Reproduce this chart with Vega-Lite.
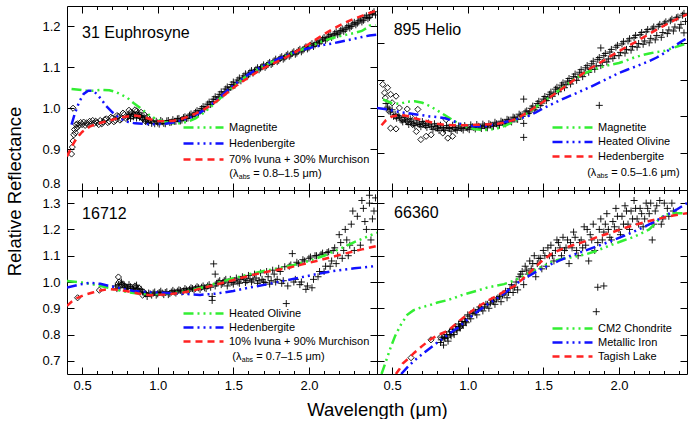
{
"$schema": "https://vega.github.io/schema/vega-lite/v6.json",
"padding": {"left": 5, "top": 5, "right": 1, "bottom": 0},
"autosize": {"type": "pad"},
"spacing": 0,
"bounds": "flush",
"columns": 2,
"config": {
 "font": "Liberation Sans",
 "view": {"stroke": null},
 "axis": {"grid": false, "domainColor": "#000", "tickColor": "#000", "labelColor": "#000", "titleColor": "#000", "labelFontSize": 13, "titleFontSize": 18.5, "titleFontWeight": "normal", "labelFont": "Liberation Sans", "titleFont": "Liberation Sans", "labelOverlap": false, "labelFlush": false, "domainWidth": 1, "tickWidth": 1},
 "legend": {"labelFont": "Liberation Sans", "labelColor": "#000", "labelFontSize": 11},
 "text": {"font": "Liberation Sans", "color": "#000"}
},
"resolve": {"scale": {"x": "independent", "y": "independent", "color": "independent", "strokeDash": "independent"}, "legend": {"color": "independent", "strokeDash": "independent"}, "axis": {"x": "independent", "y": "independent"}},
"datasets": {
 "tl_obs": [{"w":0.80,"r":0.978},{"w":0.81,"r":0.985},{"w":0.82,"r":0.975},{"w":0.83,"r":0.988},{"w":0.84,"r":0.979},{"w":0.85,"r":0.984},{"w":0.86,"r":0.976},{"w":0.87,"r":0.99},{"w":0.88,"r":0.978},{"w":0.89,"r":0.982},{"w":0.90,"r":0.972},{"w":0.91,"r":0.978},{"w":0.92,"r":0.968},{"w":0.93,"r":0.975},{"w":0.94,"r":0.965},{"w":0.95,"r":0.971},{"w":0.96,"r":0.963},{"w":0.97,"r":0.969},{"w":0.98,"r":0.962},{"w":0.99,"r":0.968},{"w":1.00,"r":0.964},{"w":1.02,"r":0.97},{"w":1.04,"r":0.963},{"w":1.06,"r":0.969},{"w":1.08,"r":0.965},{"w":1.10,"r":0.972},{"w":1.12,"r":0.968},{"w":1.14,"r":0.975},{"w":1.16,"r":0.971},{"w":1.18,"r":0.979},{"w":1.20,"r":0.976},{"w":1.22,"r":0.986},{"w":1.24,"r":0.984},{"w":1.26,"r":0.994},{"w":1.28,"r":0.993},{"w":1.30,"r":1.004},{"w":1.32,"r":1.003},{"w":1.34,"r":1.015},{"w":1.36,"r":1.016},{"w":1.38,"r":1.028},{"w":1.40,"r":1.027},{"w":1.42,"r":1.04},{"w":1.44,"r":1.04},{"w":1.46,"r":1.052},{"w":1.48,"r":1.051},{"w":1.50,"r":1.064},{"w":1.52,"r":1.062},{"w":1.54,"r":1.074},{"w":1.56,"r":1.073},{"w":1.58,"r":1.084},{"w":1.60,"r":1.082},{"w":1.62,"r":1.092},{"w":1.64,"r":1.09},{"w":1.66,"r":1.099},{"w":1.68,"r":1.098},{"w":1.70,"r":1.106},{"w":1.72,"r":1.104},{"w":1.74,"r":1.112},{"w":1.76,"r":1.11},{"w":1.78,"r":1.12},{"w":1.80,"r":1.117},{"w":1.82,"r":1.126},{"w":1.84,"r":1.123},{"w":1.86,"r":1.132},{"w":1.88,"r":1.13},{"w":1.90,"r":1.138},{"w":1.92,"r":1.135},{"w":1.94,"r":1.144},{"w":1.96,"r":1.142},{"w":1.98,"r":1.15},{"w":2.00,"r":1.148},{"w":2.02,"r":1.158},{"w":2.04,"r":1.155},{"w":2.06,"r":1.165},{"w":2.08,"r":1.163},{"w":2.10,"r":1.173},{"w":2.12,"r":1.17},{"w":2.14,"r":1.18},{"w":2.16,"r":1.177},{"w":2.18,"r":1.187},{"w":2.20,"r":1.184},{"w":2.22,"r":1.194},{"w":2.24,"r":1.192},{"w":2.26,"r":1.202},{"w":2.28,"r":1.2},{"w":2.30,"r":1.21},{"w":2.32,"r":1.208},{"w":2.34,"r":1.218},{"w":2.36,"r":1.215},{"w":2.38,"r":1.226},{"w":2.40,"r":1.222},{"w":2.42,"r":1.232},{"w":2.44,"r":1.228},
  {"w":1.01,"r":0.961},{"w":1.03,"r":0.967},{"w":1.05,"r":0.962},{"w":1.07,"r":0.97},{"w":1.09,"r":0.966},{"w":1.11,"r":0.968},{"w":1.13,"r":0.974},{"w":1.15,"r":0.969},{"w":1.17,"r":0.977},{"w":1.19,"r":0.975},{"w":1.21,"r":0.983},{"w":1.23,"r":0.98},{"w":1.25,"r":0.99},{"w":1.27,"r":0.988},{"w":1.29,"r":0.999},{"w":1.31,"r":0.998},{"w":1.33,"r":1.01},{"w":1.35,"r":1.009},{"w":1.37,"r":1.022},{"w":1.39,"r":1.021},{"w":1.41,"r":1.034},{"w":1.43,"r":1.033},{"w":1.45,"r":1.047},{"w":1.47,"r":1.045},{"w":1.49,"r":1.058},{"w":1.51,"r":1.056},{"w":1.53,"r":1.069},{"w":1.55,"r":1.067},{"w":1.57,"r":1.079},{"w":1.59,"r":1.077},{"w":1.61,"r":1.088},{"w":1.63,"r":1.086},{"w":1.65,"r":1.095},{"w":1.67,"r":1.094},{"w":1.69,"r":1.102},{"w":1.71,"r":1.1},{"w":1.73,"r":1.109},{"w":1.75,"r":1.107},{"w":1.77,"r":1.116},{"w":1.79,"r":1.114},{"w":1.81,"r":1.123},{"w":1.83,"r":1.12},{"w":1.85,"r":1.129},{"w":1.87,"r":1.127},{"w":1.89,"r":1.135},{"w":1.91,"r":1.132},{"w":1.93,"r":1.141},{"w":1.95,"r":1.138},{"w":1.97,"r":1.147},{"w":1.99,"r":1.145},{"w":2.01,"r":1.154},{"w":2.03,"r":1.151},{"w":2.05,"r":1.161},{"w":2.07,"r":1.159},{"w":2.09,"r":1.169},{"w":2.11,"r":1.166},{"w":2.13,"r":1.176},{"w":2.15,"r":1.173},{"w":2.17,"r":1.183},{"w":2.19,"r":1.18},{"w":2.21,"r":1.19},{"w":2.23,"r":1.188},{"w":2.25,"r":1.198},{"w":2.27,"r":1.196},{"w":2.29,"r":1.206},{"w":2.31,"r":1.204},{"w":2.33,"r":1.214},{"w":2.35,"r":1.211},{"w":2.37,"r":1.222},{"w":2.39,"r":1.219},{"w":2.41,"r":1.229},{"w":2.43,"r":1.236}],
 "tl_vis": [{"w":0.43,"r":0.888},{"w":0.435,"r":0.905},{"w":0.44,"r":1.0},{"w":0.44,"r":0.92},{"w":0.445,"r":0.935},{"w":0.45,"r":0.948},{"w":0.455,"r":0.94},{"w":0.46,"r":0.96},{"w":0.465,"r":0.952},{"w":0.47,"r":0.962},{"w":0.48,"r":0.958},{"w":0.49,"r":0.965},{"w":0.50,"r":0.96},{"w":0.51,"r":0.966},{"w":0.52,"r":0.958},{"w":0.53,"r":0.964},{"w":0.54,"r":0.96},{"w":0.55,"r":0.968},{"w":0.56,"r":0.962},{"w":0.57,"r":0.97},{"w":0.58,"r":0.963},{"w":0.59,"r":0.968},{"w":0.60,"r":0.965},{"w":0.61,"r":0.96},{"w":0.62,"r":0.97},{"w":0.63,"r":0.962},{"w":0.64,"r":0.966},{"w":0.65,"r":0.972},{"w":0.66,"r":0.974},{"w":0.67,"r":0.965},{"w":0.68,"r":0.968},{"w":0.69,"r":0.978},{"w":0.70,"r":0.976},{"w":0.71,"r":0.967},{"w":0.72,"r":0.97},{"w":0.73,"r":0.982},{"w":0.74,"r":0.98},{"w":0.75,"r":0.971},{"w":0.76,"r":0.974},{"w":0.77,"r":0.988},{"w":0.78,"r":0.985},{"w":0.79,"r":0.975},{"w":0.80,"r":0.978},{"w":0.81,"r":0.995},{"w":0.82,"r":0.99},{"w":0.83,"r":0.98},{"w":0.84,"r":0.985},{"w":0.85,"r":0.996},{"w":0.86,"r":0.993},{"w":0.87,"r":0.982},{"w":0.88,"r":0.98},{"w":0.89,"r":0.99},{"w":0.90,"r":0.975},{"w":0.91,"r":0.985},{"w":0.92,"r":0.968},{"w":0.93,"r":0.978},{"w":0.94,"r":0.97}],
 "tl_mod": [
  {"s":"Magnetite","w":0.43,"r":1.047},{"s":"Magnetite","w":0.48,"r":1.045},{"s":"Magnetite","w":0.53,"r":1.043},{"s":"Magnetite","w":0.58,"r":1.043},{"s":"Magnetite","w":0.63,"r":1.045},{"s":"Magnetite","w":0.68,"r":1.044},{"s":"Magnetite","w":0.72,"r":1.04},{"s":"Magnetite","w":0.76,"r":1.033},{"s":"Magnetite","w":0.8,"r":1.025},{"s":"Magnetite","w":0.84,"r":1.013},{"s":"Magnetite","w":0.88,"r":1.002},{"s":"Magnetite","w":0.92,"r":0.99},{"s":"Magnetite","w":0.96,"r":0.979},{"s":"Magnetite","w":1.0,"r":0.972},{"s":"Magnetite","w":1.05,"r":0.966},{"s":"Magnetite","w":1.1,"r":0.963},{"s":"Magnetite","w":1.15,"r":0.963},{"s":"Magnetite","w":1.2,"r":0.967},{"s":"Magnetite","w":1.25,"r":0.975},{"s":"Magnetite","w":1.3,"r":0.988},{"s":"Magnetite","w":1.35,"r":1.003},{"s":"Magnetite","w":1.4,"r":1.02},{"s":"Magnetite","w":1.45,"r":1.037},{"s":"Magnetite","w":1.5,"r":1.053},{"s":"Magnetite","w":1.55,"r":1.068},{"s":"Magnetite","w":1.6,"r":1.082},{"s":"Magnetite","w":1.65,"r":1.093},{"s":"Magnetite","w":1.7,"r":1.103},{"s":"Magnetite","w":1.75,"r":1.112},{"s":"Magnetite","w":1.8,"r":1.12},{"s":"Magnetite","w":1.85,"r":1.128},{"s":"Magnetite","w":1.9,"r":1.136},{"s":"Magnetite","w":1.95,"r":1.143},{"s":"Magnetite","w":2.0,"r":1.15},{"s":"Magnetite","w":2.05,"r":1.158},{"s":"Magnetite","w":2.1,"r":1.165},{"s":"Magnetite","w":2.15,"r":1.171},{"s":"Magnetite","w":2.2,"r":1.176},{"s":"Magnetite","w":2.25,"r":1.18},{"s":"Magnetite","w":2.3,"r":1.184},{"s":"Magnetite","w":2.35,"r":1.189},{"s":"Magnetite","w":2.38,"r":1.196},{"s":"Magnetite","w":2.4,"r":1.202},{"s":"Magnetite","w":2.44,"r":1.203},
  {"s":"Hedenbergite","w":0.43,"r":0.96},{"s":"Hedenbergite","w":0.45,"r":0.985},{"s":"Hedenbergite","w":0.48,"r":1.015},{"s":"Hedenbergite","w":0.51,"r":1.035},{"s":"Hedenbergite","w":0.54,"r":1.043},{"s":"Hedenbergite","w":0.57,"r":1.043},{"s":"Hedenbergite","w":0.6,"r":1.034},{"s":"Hedenbergite","w":0.63,"r":1.02},{"s":"Hedenbergite","w":0.66,"r":1.005},{"s":"Hedenbergite","w":0.7,"r":0.99},{"s":"Hedenbergite","w":0.75,"r":0.975},{"s":"Hedenbergite","w":0.8,"r":0.967},{"s":"Hedenbergite","w":0.85,"r":0.963},{"s":"Hedenbergite","w":0.9,"r":0.962},{"s":"Hedenbergite","w":0.95,"r":0.961},{"s":"Hedenbergite","w":1.0,"r":0.961},{"s":"Hedenbergite","w":1.05,"r":0.962},{"s":"Hedenbergite","w":1.1,"r":0.965},{"s":"Hedenbergite","w":1.15,"r":0.969},{"s":"Hedenbergite","w":1.2,"r":0.975},{"s":"Hedenbergite","w":1.25,"r":0.983},{"s":"Hedenbergite","w":1.3,"r":0.994},{"s":"Hedenbergite","w":1.35,"r":1.008},{"s":"Hedenbergite","w":1.4,"r":1.023},{"s":"Hedenbergite","w":1.45,"r":1.04},{"s":"Hedenbergite","w":1.5,"r":1.056},{"s":"Hedenbergite","w":1.55,"r":1.07},{"s":"Hedenbergite","w":1.6,"r":1.083},{"s":"Hedenbergite","w":1.65,"r":1.094},{"s":"Hedenbergite","w":1.7,"r":1.104},{"s":"Hedenbergite","w":1.75,"r":1.113},{"s":"Hedenbergite","w":1.8,"r":1.121},{"s":"Hedenbergite","w":1.85,"r":1.129},{"s":"Hedenbergite","w":1.9,"r":1.136},{"s":"Hedenbergite","w":1.95,"r":1.142},{"s":"Hedenbergite","w":2.0,"r":1.147},{"s":"Hedenbergite","w":2.05,"r":1.151},{"s":"Hedenbergite","w":2.1,"r":1.155},{"s":"Hedenbergite","w":2.15,"r":1.158},{"s":"Hedenbergite","w":2.2,"r":1.162},{"s":"Hedenbergite","w":2.25,"r":1.166},{"s":"Hedenbergite","w":2.3,"r":1.17},{"s":"Hedenbergite","w":2.35,"r":1.174},{"s":"Hedenbergite","w":2.4,"r":1.178},{"s":"Hedenbergite","w":2.45,"r":1.18},
  {"s":"70% Ivuna + 30% Murchison","w":0.4,"r":0.882},{"s":"70% Ivuna + 30% Murchison","w":0.43,"r":0.905},{"s":"70% Ivuna + 30% Murchison","w":0.46,"r":0.925},{"s":"70% Ivuna + 30% Murchison","w":0.5,"r":0.942},{"s":"70% Ivuna + 30% Murchison","w":0.55,"r":0.955},{"s":"70% Ivuna + 30% Murchison","w":0.6,"r":0.962},{"s":"70% Ivuna + 30% Murchison","w":0.65,"r":0.967},{"s":"70% Ivuna + 30% Murchison","w":0.7,"r":0.972},{"s":"70% Ivuna + 30% Murchison","w":0.75,"r":0.977},{"s":"70% Ivuna + 30% Murchison","w":0.8,"r":0.98},{"s":"70% Ivuna + 30% Murchison","w":0.85,"r":0.982},{"s":"70% Ivuna + 30% Murchison","w":0.9,"r":0.979},{"s":"70% Ivuna + 30% Murchison","w":0.95,"r":0.973},{"s":"70% Ivuna + 30% Murchison","w":1.0,"r":0.969},{"s":"70% Ivuna + 30% Murchison","w":1.05,"r":0.968},{"s":"70% Ivuna + 30% Murchison","w":1.1,"r":0.969},{"s":"70% Ivuna + 30% Murchison","w":1.15,"r":0.973},{"s":"70% Ivuna + 30% Murchison","w":1.2,"r":0.979},{"s":"70% Ivuna + 30% Murchison","w":1.25,"r":0.987},{"s":"70% Ivuna + 30% Murchison","w":1.3,"r":0.996},{"s":"70% Ivuna + 30% Murchison","w":1.35,"r":1.007},{"s":"70% Ivuna + 30% Murchison","w":1.4,"r":1.02},{"s":"70% Ivuna + 30% Murchison","w":1.45,"r":1.035},{"s":"70% Ivuna + 30% Murchison","w":1.5,"r":1.05},{"s":"70% Ivuna + 30% Murchison","w":1.55,"r":1.063},{"s":"70% Ivuna + 30% Murchison","w":1.6,"r":1.075},{"s":"70% Ivuna + 30% Murchison","w":1.65,"r":1.087},{"s":"70% Ivuna + 30% Murchison","w":1.7,"r":1.098},{"s":"70% Ivuna + 30% Murchison","w":1.75,"r":1.107},{"s":"70% Ivuna + 30% Murchison","w":1.8,"r":1.116},{"s":"70% Ivuna + 30% Murchison","w":1.85,"r":1.125},{"s":"70% Ivuna + 30% Murchison","w":1.9,"r":1.135},{"s":"70% Ivuna + 30% Murchison","w":1.95,"r":1.146},{"s":"70% Ivuna + 30% Murchison","w":2.0,"r":1.157},{"s":"70% Ivuna + 30% Murchison","w":2.05,"r":1.169},{"s":"70% Ivuna + 30% Murchison","w":2.1,"r":1.181},{"s":"70% Ivuna + 30% Murchison","w":2.15,"r":1.192},{"s":"70% Ivuna + 30% Murchison","w":2.2,"r":1.202},{"s":"70% Ivuna + 30% Murchison","w":2.25,"r":1.211},{"s":"70% Ivuna + 30% Murchison","w":2.3,"r":1.219},{"s":"70% Ivuna + 30% Murchison","w":2.35,"r":1.226},{"s":"70% Ivuna + 30% Murchison","w":2.4,"r":1.233},{"s":"70% Ivuna + 30% Murchison","w":2.44,"r":1.238}],
 "tr_obs": [{"w":0.46,"r":1.035},{"w":0.48,"r":1.02},{"w":0.50,"r":1.018},{"w":0.52,"r":1.005},{"w":0.54,"r":1.002},{"w":0.56,"r":0.99},{"w":0.58,"r":0.998},{"w":0.60,"r":0.985},{"w":0.62,"r":0.993},{"w":0.64,"r":0.98},{"w":0.66,"r":0.99},{"w":0.68,"r":0.978},{"w":0.70,"r":0.986},{"w":0.72,"r":0.975},{"w":0.74,"r":0.982},{"w":0.76,"r":0.972},{"w":0.78,"r":0.98},{"w":0.80,"r":0.968},{"w":0.82,"r":0.976},{"w":0.84,"r":0.966},{"w":0.86,"r":0.975},{"w":0.88,"r":0.967},{"w":0.90,"r":0.976},{"w":0.92,"r":0.965},{"w":0.94,"r":0.974},{"w":0.96,"r":0.967},{"w":0.98,"r":0.975},{"w":1.00,"r":0.968},{"w":1.02,"r":0.977},{"w":1.04,"r":0.97},{"w":1.06,"r":0.978},{"w":1.08,"r":0.971},{"w":1.10,"r":0.979},{"w":1.12,"r":0.972},{"w":1.14,"r":0.98},{"w":1.16,"r":0.975},{"w":1.18,"r":0.984},{"w":1.20,"r":0.977},{"w":1.22,"r":0.987},{"w":1.24,"r":0.982},{"w":1.26,"r":0.992},{"w":1.28,"r":0.987},{"w":1.30,"r":0.998},{"w":1.32,"r":0.993},{"w":1.34,"r":1.006},{"w":1.36,"r":1.0},{"w":1.37,"r":1.047},{"w":1.37,"r":0.981},{"w":1.37,"r":0.943},{"w":1.38,"r":1.012},{"w":1.40,"r":1.008},{"w":1.42,"r":1.022},{"w":1.44,"r":1.018},{"w":1.46,"r":1.035},{"w":1.48,"r":1.03},{"w":1.50,"r":1.047},{"w":1.52,"r":1.043},{"w":1.54,"r":1.06},{"w":1.56,"r":1.055},{"w":1.58,"r":1.074},{"w":1.60,"r":1.067},{"w":1.62,"r":1.085},{"w":1.64,"r":1.078},{"w":1.66,"r":1.096},{"w":1.68,"r":1.088},{"w":1.70,"r":1.108},{"w":1.72,"r":1.098},{"w":1.74,"r":1.12},{"w":1.76,"r":1.108},{"w":1.78,"r":1.132},{"w":1.80,"r":1.12},{"w":1.82,"r":1.143},{"w":1.84,"r":1.128},{"w":1.86,"r":1.155},{"w":1.87,"r":1.03},{"w":1.88,"r":1.186},{"w":1.88,"r":1.138},{"w":1.90,"r":1.165},{"w":1.92,"r":1.148},{"w":1.94,"r":1.175},{"w":1.96,"r":1.158},{"w":1.98,"r":1.188},{"w":2.00,"r":1.165},{"w":2.02,"r":1.197},{"w":2.04,"r":1.172},{"w":2.06,"r":1.205},{"w":2.08,"r":1.18},{"w":2.10,"r":1.214},{"w":2.12,"r":1.188},{"w":2.14,"r":1.222},{"w":2.16,"r":1.196},{"w":2.18,"r":1.23},{"w":2.20,"r":1.2},{"w":2.22,"r":1.238},{"w":2.24,"r":1.208},{"w":2.26,"r":1.245},{"w":2.28,"r":1.215},{"w":2.30,"r":1.253},{"w":2.32,"r":1.225},{"w":2.34,"r":1.26},{"w":2.36,"r":1.232},{"w":2.38,"r":1.268},{"w":2.40,"r":1.24},{"w":2.42,"r":1.275},{"w":2.43,"r":1.227},{"w":2.44,"r":1.258},
  {"w":0.47,"r":1.025},{"w":0.49,"r":1.012},{"w":0.51,"r":1.0},{"w":0.53,"r":0.995},{"w":0.55,"r":0.998},{"w":0.57,"r":0.985},{"w":0.59,"r":0.99},{"w":0.61,"r":0.978},{"w":0.63,"r":0.985},{"w":0.65,"r":0.975},{"w":0.67,"r":0.982},{"w":0.69,"r":0.972},{"w":0.71,"r":0.98},{"w":0.73,"r":0.97},{"w":0.75,"r":0.977},{"w":0.77,"r":0.965},{"w":0.79,"r":0.973},{"w":0.81,"r":0.962},{"w":0.83,"r":0.97},{"w":0.85,"r":0.962},{"w":0.87,"r":0.97},{"w":0.89,"r":0.96},{"w":0.91,"r":0.97},{"w":0.93,"r":0.962},{"w":0.95,"r":0.969},{"w":0.97,"r":0.963},{"w":0.99,"r":0.97},{"w":1.01,"r":0.964},{"w":1.03,"r":0.972},{"w":1.05,"r":0.966},{"w":1.07,"r":0.973},{"w":1.09,"r":0.967},{"w":1.11,"r":0.975},{"w":1.13,"r":0.969},{"w":1.15,"r":0.977},{"w":1.17,"r":0.973},{"w":1.19,"r":0.98},{"w":1.21,"r":0.976},{"w":1.23,"r":0.984},{"w":1.25,"r":0.98},{"w":1.27,"r":0.99},{"w":1.29,"r":0.985},{"w":1.31,"r":0.996},{"w":1.33,"r":0.992},{"w":1.35,"r":1.003},{"w":1.39,"r":1.015},{"w":1.41,"r":1.012},{"w":1.43,"r":1.028},{"w":1.45,"r":1.024},{"w":1.47,"r":1.041},{"w":1.49,"r":1.036},{"w":1.51,"r":1.054},{"w":1.53,"r":1.05},{"w":1.55,"r":1.066},{"w":1.57,"r":1.062},{"w":1.59,"r":1.079},{"w":1.61,"r":1.075},{"w":1.63,"r":1.091},{"w":1.65,"r":1.086},{"w":1.67,"r":1.103},{"w":1.69,"r":1.097},{"w":1.71,"r":1.115},{"w":1.73,"r":1.107},{"w":1.75,"r":1.127},{"w":1.77,"r":1.117},{"w":1.79,"r":1.138},{"w":1.81,"r":1.128},{"w":1.83,"r":1.15},{"w":1.85,"r":1.137},{"w":1.87,"r":1.16},{"w":1.89,"r":1.147},{"w":1.91,"r":1.171},{"w":1.93,"r":1.156},{"w":1.95,"r":1.182},{"w":1.97,"r":1.165},{"w":1.99,"r":1.193},{"w":2.01,"r":1.174},{"w":2.03,"r":1.203},{"w":2.05,"r":1.182},{"w":2.07,"r":1.211},{"w":2.09,"r":1.19},{"w":2.11,"r":1.22},{"w":2.13,"r":1.198},{"w":2.15,"r":1.228},{"w":2.17,"r":1.205},{"w":2.19,"r":1.236},{"w":2.21,"r":1.212},{"w":2.23,"r":1.243},{"w":2.25,"r":1.22},{"w":2.27,"r":1.25},{"w":2.29,"r":1.228},{"w":2.31,"r":1.257},{"w":2.33,"r":1.235},{"w":2.35,"r":1.264},{"w":2.37,"r":1.243},{"w":2.39,"r":1.27},{"w":2.41,"r":1.25},{"w":2.43,"r":1.28}],
 "tr_vis": [{"w":0.438,"r":1.087},{"w":0.47,"r":1.078},{"w":0.45,"r":1.064},{"w":0.49,"r":1.06},{"w":0.526,"r":1.055},{"w":0.455,"r":1.05},{"w":0.50,"r":1.037},{"w":0.548,"r":1.023},{"w":0.48,"r":1.014},{"w":0.526,"r":1.0},{"w":0.57,"r":0.991},{"w":0.49,"r":0.968},{"w":0.526,"r":0.966},{"w":0.60,"r":0.987},{"w":0.636,"r":0.978},{"w":0.67,"r":1.019},{"w":0.66,"r":0.959},{"w":0.69,"r":0.937},{"w":0.725,"r":0.946},{"w":0.758,"r":0.95},{"w":0.79,"r":0.968},{"w":0.835,"r":0.955},{"w":0.868,"r":0.941},{"w":0.90,"r":0.946},{"w":0.857,"r":0.991},{"w":0.91,"r":0.968},{"w":0.70,"r":0.978},{"w":0.62,"r":1.0},{"w":0.60,"r":1.02}],
 "tr_mod": [
  {"s":"Magnetite","w":0.44,"r":1.046},{"s":"Magnetite","w":0.5,"r":1.036},{"s":"Magnetite","w":0.55,"r":1.034},{"s":"Magnetite","w":0.6,"r":1.04},{"s":"Magnetite","w":0.65,"r":1.041},{"s":"Magnetite","w":0.7,"r":1.037},{"s":"Magnetite","w":0.75,"r":1.028},{"s":"Magnetite","w":0.8,"r":1.016},{"s":"Magnetite","w":0.85,"r":1.003},{"s":"Magnetite","w":0.9,"r":0.99},{"s":"Magnetite","w":0.95,"r":0.978},{"s":"Magnetite","w":1.0,"r":0.97},{"s":"Magnetite","w":1.05,"r":0.965},{"s":"Magnetite","w":1.1,"r":0.963},{"s":"Magnetite","w":1.15,"r":0.964},{"s":"Magnetite","w":1.2,"r":0.968},{"s":"Magnetite","w":1.25,"r":0.975},{"s":"Magnetite","w":1.3,"r":0.985},{"s":"Magnetite","w":1.35,"r":0.997},{"s":"Magnetite","w":1.4,"r":1.01},{"s":"Magnetite","w":1.45,"r":1.025},{"s":"Magnetite","w":1.5,"r":1.04},{"s":"Magnetite","w":1.55,"r":1.055},{"s":"Magnetite","w":1.6,"r":1.07},{"s":"Magnetite","w":1.65,"r":1.085},{"s":"Magnetite","w":1.7,"r":1.1},{"s":"Magnetite","w":1.75,"r":1.112},{"s":"Magnetite","w":1.8,"r":1.122},{"s":"Magnetite","w":1.85,"r":1.13},{"s":"Magnetite","w":1.9,"r":1.136},{"s":"Magnetite","w":1.95,"r":1.141},{"s":"Magnetite","w":2.0,"r":1.145},{"s":"Magnetite","w":2.05,"r":1.152},{"s":"Magnetite","w":2.1,"r":1.16},{"s":"Magnetite","w":2.15,"r":1.166},{"s":"Magnetite","w":2.2,"r":1.171},{"s":"Magnetite","w":2.25,"r":1.175},{"s":"Magnetite","w":2.3,"r":1.178},{"s":"Magnetite","w":2.35,"r":1.185},{"s":"Magnetite","w":2.4,"r":1.192},{"s":"Magnetite","w":2.45,"r":1.198},
  {"s":"Heated Olivine","w":0.4,"r":1.023},{"s":"Heated Olivine","w":0.45,"r":1.02},{"s":"Heated Olivine","w":0.5,"r":1.016},{"s":"Heated Olivine","w":0.55,"r":1.012},{"s":"Heated Olivine","w":0.6,"r":1.009},{"s":"Heated Olivine","w":0.65,"r":1.006},{"s":"Heated Olivine","w":0.7,"r":1.003},{"s":"Heated Olivine","w":0.75,"r":1.0},{"s":"Heated Olivine","w":0.8,"r":0.998},{"s":"Heated Olivine","w":0.85,"r":0.995},{"s":"Heated Olivine","w":0.9,"r":0.988},{"s":"Heated Olivine","w":0.95,"r":0.98},{"s":"Heated Olivine","w":1.0,"r":0.975},{"s":"Heated Olivine","w":1.05,"r":0.973},{"s":"Heated Olivine","w":1.1,"r":0.973},{"s":"Heated Olivine","w":1.15,"r":0.976},{"s":"Heated Olivine","w":1.2,"r":0.98},{"s":"Heated Olivine","w":1.25,"r":0.985},{"s":"Heated Olivine","w":1.3,"r":0.99},{"s":"Heated Olivine","w":1.35,"r":0.995},{"s":"Heated Olivine","w":1.4,"r":1.001},{"s":"Heated Olivine","w":1.45,"r":1.011},{"s":"Heated Olivine","w":1.5,"r":1.022},{"s":"Heated Olivine","w":1.55,"r":1.032},{"s":"Heated Olivine","w":1.6,"r":1.042},{"s":"Heated Olivine","w":1.65,"r":1.051},{"s":"Heated Olivine","w":1.7,"r":1.06},{"s":"Heated Olivine","w":1.75,"r":1.069},{"s":"Heated Olivine","w":1.8,"r":1.078},{"s":"Heated Olivine","w":1.85,"r":1.088},{"s":"Heated Olivine","w":1.9,"r":1.098},{"s":"Heated Olivine","w":1.95,"r":1.108},{"s":"Heated Olivine","w":2.0,"r":1.118},{"s":"Heated Olivine","w":2.05,"r":1.126},{"s":"Heated Olivine","w":2.1,"r":1.134},{"s":"Heated Olivine","w":2.15,"r":1.142},{"s":"Heated Olivine","w":2.2,"r":1.15},{"s":"Heated Olivine","w":2.25,"r":1.16},{"s":"Heated Olivine","w":2.3,"r":1.172},{"s":"Heated Olivine","w":2.35,"r":1.186},{"s":"Heated Olivine","w":2.4,"r":1.2},{"s":"Heated Olivine","w":2.45,"r":1.213},
  {"s":"Hedenbergite","w":0.43,"r":0.976},{"s":"Hedenbergite","w":0.46,"r":0.99},{"s":"Hedenbergite","w":0.5,"r":1.0},{"s":"Hedenbergite","w":0.55,"r":1.004},{"s":"Hedenbergite","w":0.6,"r":1.001},{"s":"Hedenbergite","w":0.65,"r":0.995},{"s":"Hedenbergite","w":0.7,"r":0.99},{"s":"Hedenbergite","w":0.75,"r":0.985},{"s":"Hedenbergite","w":0.8,"r":0.98},{"s":"Hedenbergite","w":0.85,"r":0.977},{"s":"Hedenbergite","w":0.9,"r":0.976},{"s":"Hedenbergite","w":0.95,"r":0.976},{"s":"Hedenbergite","w":1.0,"r":0.976},{"s":"Hedenbergite","w":1.05,"r":0.977},{"s":"Hedenbergite","w":1.1,"r":0.978},{"s":"Hedenbergite","w":1.15,"r":0.979},{"s":"Hedenbergite","w":1.2,"r":0.98},{"s":"Hedenbergite","w":1.25,"r":0.984},{"s":"Hedenbergite","w":1.3,"r":0.99},{"s":"Hedenbergite","w":1.35,"r":1.0},{"s":"Hedenbergite","w":1.4,"r":1.012},{"s":"Hedenbergite","w":1.45,"r":1.026},{"s":"Hedenbergite","w":1.5,"r":1.04},{"s":"Hedenbergite","w":1.55,"r":1.054},{"s":"Hedenbergite","w":1.6,"r":1.068},{"s":"Hedenbergite","w":1.65,"r":1.083},{"s":"Hedenbergite","w":1.7,"r":1.098},{"s":"Hedenbergite","w":1.75,"r":1.113},{"s":"Hedenbergite","w":1.8,"r":1.128},{"s":"Hedenbergite","w":1.85,"r":1.14},{"s":"Hedenbergite","w":1.9,"r":1.152},{"s":"Hedenbergite","w":1.95,"r":1.165},{"s":"Hedenbergite","w":2.0,"r":1.177},{"s":"Hedenbergite","w":2.05,"r":1.189},{"s":"Hedenbergite","w":2.1,"r":1.2},{"s":"Hedenbergite","w":2.15,"r":1.212},{"s":"Hedenbergite","w":2.2,"r":1.224},{"s":"Hedenbergite","w":2.25,"r":1.236},{"s":"Hedenbergite","w":2.3,"r":1.247},{"s":"Hedenbergite","w":2.35,"r":1.258},{"s":"Hedenbergite","w":2.4,"r":1.268},{"s":"Hedenbergite","w":2.45,"r":1.277}],
 "bl_obs": [{"w":0.72,"r":0.985},{"w":0.74,"r":0.99},{"w":0.75,"r":0.978},{"w":0.76,"r":1.0},{"w":0.78,"r":0.985},{"w":0.80,"r":0.975},{"w":0.82,"r":0.982},{"w":0.84,"r":0.972},{"w":0.86,"r":0.988},{"w":0.87,"r":0.975},{"w":0.88,"r":0.965},{"w":0.90,"r":0.962},{"w":0.92,"r":0.955},{"w":0.93,"r":0.945},{"w":0.94,"r":0.958},{"w":0.96,"r":0.95},{"w":0.98,"r":0.962},{"w":1.00,"r":0.955},{"w":1.02,"r":0.965},{"w":1.04,"r":0.952},{"w":1.06,"r":0.963},{"w":1.08,"r":0.956},{"w":1.10,"r":0.968},{"w":1.12,"r":0.958},{"w":1.14,"r":0.97},{"w":1.16,"r":0.962},{"w":1.18,"r":0.975},{"w":1.20,"r":0.965},{"w":1.22,"r":0.978},{"w":1.24,"r":0.97},{"w":1.26,"r":0.982},{"w":1.28,"r":0.972},{"w":1.30,"r":0.985},{"w":1.32,"r":0.975},{"w":1.34,"r":0.99},{"w":1.36,"r":0.945},{"w":1.36,"r":0.93},{"w":1.37,"r":1.069},{"w":1.38,"r":1.03},{"w":1.38,"r":0.985},{"w":1.40,"r":1.0},{"w":1.42,"r":0.99},{"w":1.44,"r":1.005},{"w":1.46,"r":0.985},{"w":1.48,"r":1.01},{"w":1.50,"r":0.992},{"w":1.52,"r":1.015},{"w":1.54,"r":0.995},{"w":1.56,"r":1.02},{"w":1.58,"r":0.998},{"w":1.60,"r":1.025},{"w":1.62,"r":1.0},{"w":1.64,"r":1.03},{"w":1.66,"r":0.995},{"w":1.68,"r":1.035},{"w":1.70,"r":1.0},{"w":1.72,"r":1.04},{"w":1.74,"r":0.992},{"w":1.76,"r":1.045},{"w":1.78,"r":1.0},{"w":1.80,"r":1.052},{"w":1.82,"r":0.995},{"w":1.84,"r":1.058},{"w":1.85,"r":0.918},{"w":1.86,"r":0.985},{"w":1.88,"r":1.065},{"w":1.89,"r":1.108},{"w":1.90,"r":1.0},{"w":1.92,"r":1.075},{"w":1.94,"r":0.99},{"w":1.96,"r":1.085},{"w":1.98,"r":0.972},{"w":2.00,"r":1.09},{"w":2.02,"r":0.978},{"w":2.04,"r":1.1},{"w":2.06,"r":1.02},{"w":2.08,"r":1.105},{"w":2.10,"r":1.04},{"w":2.12,"r":1.112},{"w":2.14,"r":1.06},{"w":2.16,"r":1.12},{"w":2.18,"r":1.07},{"w":2.20,"r":1.18},{"w":2.22,"r":1.09},{"w":2.24,"r":1.2},{"w":2.26,"r":1.1},{"w":2.28,"r":1.22},{"w":2.29,"r":1.27},{"w":2.30,"r":1.12},{"w":2.32,"r":1.25},{"w":2.34,"r":1.14},{"w":2.35,"r":1.31},{"w":2.36,"r":1.28},{"w":2.37,"r":1.23},{"w":2.38,"r":1.2},{"w":2.40,"r":1.3},{"w":2.40,"r":1.33},{"w":2.41,"r":1.16},{"w":2.42,"r":1.24},{"w":2.43,"r":1.27},{"w":2.44,"r":1.32},
  {"w":0.73,"r":0.975},{"w":0.77,"r":0.992},{"w":0.79,"r":0.98},{"w":0.81,"r":0.99},{"w":0.83,"r":0.975},{"w":0.85,"r":0.98},{"w":0.89,"r":0.972},{"w":0.91,"r":0.96},{"w":0.95,"r":0.955},{"w":0.97,"r":0.958},{"w":0.99,"r":0.95},{"w":1.01,"r":0.96},{"w":1.03,"r":0.958},{"w":1.05,"r":0.96},{"w":1.07,"r":0.952},{"w":1.09,"r":0.962},{"w":1.11,"r":0.962},{"w":1.13,"r":0.965},{"w":1.15,"r":0.968},{"w":1.17,"r":0.966},{"w":1.19,"r":0.97},{"w":1.21,"r":0.972},{"w":1.23,"r":0.975},{"w":1.25,"r":0.976},{"w":1.27,"r":0.978},{"w":1.29,"r":0.98},{"w":1.31,"r":0.978},{"w":1.33,"r":0.985},{"w":1.35,"r":0.98},{"w":1.39,"r":0.995},{"w":1.41,"r":1.005},{"w":1.43,"r":0.995},{"w":1.45,"r":1.01},{"w":1.47,"r":1.0},{"w":1.49,"r":0.998},{"w":1.51,"r":1.005},{"w":1.53,"r":1.0},{"w":1.55,"r":1.01},{"w":1.57,"r":1.012},{"w":1.59,"r":1.005},{"w":1.61,"r":1.012},{"w":1.63,"r":1.008},{"w":1.65,"r":1.015},{"w":1.67,"r":1.005},{"w":1.69,"r":1.01},{"w":1.71,"r":0.998},{"w":1.73,"r":1.02},{"w":1.75,"r":1.005},{"w":1.77,"r":1.03},{"w":1.79,"r":1.01},{"w":1.81,"r":1.04},{"w":1.83,"r":1.005},{"w":1.87,"r":1.06},{"w":1.91,"r":1.01},{"w":1.93,"r":1.07},{"w":1.95,"r":1.0},{"w":1.97,"r":1.08},{"w":1.99,"r":0.985},{"w":2.01,"r":1.095},{"w":2.03,"r":1.01},{"w":2.05,"r":1.1},{"w":2.07,"r":1.04},{"w":2.09,"r":1.11},{"w":2.11,"r":1.06},{"w":2.13,"r":1.115},{"w":2.15,"r":1.08},{"w":2.17,"r":1.13},{"w":2.19,"r":1.1},{"w":2.21,"r":1.15},{"w":2.23,"r":1.12},{"w":2.25,"r":1.16},{"w":2.27,"r":1.14}],
 "bl_vis": [{"w":0.47,"r":0.94},{"w":0.614,"r":0.969},{"w":0.74,"r":1.019},{"w":0.745,"r":1.0},{"w":0.76,"r":0.99},{"w":0.78,"r":0.985},{"w":0.80,"r":0.98},{"w":0.85,"r":0.985},{"w":0.88,"r":0.975},{"w":0.90,"r":0.95},{"w":0.92,"r":0.955}],
 "bl_mod": [
  {"s":"Heated Olivine","w":0.4,"r":1.004},{"s":"Heated Olivine","w":0.5,"r":0.998},{"s":"Heated Olivine","w":0.55,"r":0.993},{"s":"Heated Olivine","w":0.6,"r":0.988},{"s":"Heated Olivine","w":0.68,"r":0.977},{"s":"Heated Olivine","w":0.76,"r":0.966},{"s":"Heated Olivine","w":0.84,"r":0.958},{"s":"Heated Olivine","w":0.92,"r":0.954},{"s":"Heated Olivine","w":1.0,"r":0.954},{"s":"Heated Olivine","w":1.1,"r":0.958},{"s":"Heated Olivine","w":1.2,"r":0.966},{"s":"Heated Olivine","w":1.3,"r":0.98},{"s":"Heated Olivine","w":1.4,"r":0.998},{"s":"Heated Olivine","w":1.5,"r":1.014},{"s":"Heated Olivine","w":1.6,"r":1.029},{"s":"Heated Olivine","w":1.7,"r":1.042},{"s":"Heated Olivine","w":1.8,"r":1.052},{"s":"Heated Olivine","w":1.9,"r":1.065},{"s":"Heated Olivine","w":2.0,"r":1.08},{"s":"Heated Olivine","w":2.1,"r":1.1},{"s":"Heated Olivine","w":2.2,"r":1.125},{"s":"Heated Olivine","w":2.3,"r":1.152},{"s":"Heated Olivine","w":2.4,"r":1.176},{"s":"Heated Olivine","w":2.45,"r":1.188},
  {"s":"Hedenbergite","w":0.4,"r":0.979},{"s":"Hedenbergite","w":0.48,"r":0.99},{"s":"Hedenbergite","w":0.55,"r":0.997},{"s":"Hedenbergite","w":0.62,"r":0.993},{"s":"Hedenbergite","w":0.68,"r":0.985},{"s":"Hedenbergite","w":0.76,"r":0.975},{"s":"Hedenbergite","w":0.84,"r":0.966},{"s":"Hedenbergite","w":0.95,"r":0.961},{"s":"Hedenbergite","w":1.06,"r":0.958},{"s":"Hedenbergite","w":1.17,"r":0.955},{"s":"Hedenbergite","w":1.28,"r":0.951},{"s":"Hedenbergite","w":1.39,"r":0.956},{"s":"Hedenbergite","w":1.5,"r":0.966},{"s":"Hedenbergite","w":1.6,"r":0.978},{"s":"Hedenbergite","w":1.72,"r":0.991},{"s":"Hedenbergite","w":1.83,"r":1.004},{"s":"Hedenbergite","w":1.94,"r":1.017},{"s":"Hedenbergite","w":2.05,"r":1.03},{"s":"Hedenbergite","w":2.16,"r":1.042},{"s":"Hedenbergite","w":2.3,"r":1.052},{"s":"Hedenbergite","w":2.45,"r":1.061},
  {"s":"10% Ivuna + 90% Murchison","w":0.4,"r":0.909},{"s":"10% Ivuna + 90% Murchison","w":0.43,"r":0.925},{"s":"10% Ivuna + 90% Murchison","w":0.47,"r":0.94},{"s":"10% Ivuna + 90% Murchison","w":0.52,"r":0.952},{"s":"10% Ivuna + 90% Murchison","w":0.57,"r":0.96},{"s":"10% Ivuna + 90% Murchison","w":0.62,"r":0.968},{"s":"10% Ivuna + 90% Murchison","w":0.68,"r":0.973},{"s":"10% Ivuna + 90% Murchison","w":0.74,"r":0.97},{"s":"10% Ivuna + 90% Murchison","w":0.8,"r":0.965},{"s":"10% Ivuna + 90% Murchison","w":0.87,"r":0.956},{"s":"10% Ivuna + 90% Murchison","w":0.95,"r":0.95},{"s":"10% Ivuna + 90% Murchison","w":1.05,"r":0.952},{"s":"10% Ivuna + 90% Murchison","w":1.15,"r":0.958},{"s":"10% Ivuna + 90% Murchison","w":1.25,"r":0.97},{"s":"10% Ivuna + 90% Murchison","w":1.35,"r":0.985},{"s":"10% Ivuna + 90% Murchison","w":1.45,"r":1.0},{"s":"10% Ivuna + 90% Murchison","w":1.55,"r":1.015},{"s":"10% Ivuna + 90% Murchison","w":1.65,"r":1.03},{"s":"10% Ivuna + 90% Murchison","w":1.75,"r":1.042},{"s":"10% Ivuna + 90% Murchison","w":1.85,"r":1.052},{"s":"10% Ivuna + 90% Murchison","w":1.95,"r":1.066},{"s":"10% Ivuna + 90% Murchison","w":2.05,"r":1.08},{"s":"10% Ivuna + 90% Murchison","w":2.15,"r":1.095},{"s":"10% Ivuna + 90% Murchison","w":2.25,"r":1.11},{"s":"10% Ivuna + 90% Murchison","w":2.35,"r":1.124},{"s":"10% Ivuna + 90% Murchison","w":2.45,"r":1.137}],
 "br_obs": [{"w":0.82,"r":0.77},{"w":0.83,"r":0.79},{"w":0.84,"r":0.76},{"w":0.85,"r":0.785},{"w":0.86,"r":0.8},{"w":0.87,"r":0.775},{"w":0.88,"r":0.81},{"w":0.89,"r":0.795},{"w":0.90,"r":0.82},{"w":0.91,"r":0.8},{"w":0.92,"r":0.83},{"w":0.93,"r":0.815},{"w":0.94,"r":0.84},{"w":0.95,"r":0.825},{"w":0.96,"r":0.85},{"w":0.97,"r":0.835},{"w":0.98,"r":0.86},{"w":0.99,"r":0.845},{"w":1.00,"r":0.875},{"w":1.02,"r":0.86},{"w":1.04,"r":0.89},{"w":1.06,"r":0.875},{"w":1.08,"r":0.905},{"w":1.10,"r":0.89},{"w":1.12,"r":0.915},{"w":1.14,"r":0.9},{"w":1.16,"r":0.93},{"w":1.18,"r":0.915},{"w":1.20,"r":0.94},{"w":1.22,"r":0.925},{"w":1.24,"r":0.955},{"w":1.26,"r":0.94},{"w":1.28,"r":0.975},{"w":1.30,"r":0.96},{"w":1.32,"r":1.0},{"w":1.33,"r":0.97},{"w":1.34,"r":1.02},{"w":1.36,"r":1.04},{"w":1.37,"r":0.99},{"w":1.38,"r":1.06},{"w":1.40,"r":1.03},{"w":1.41,"r":1.08},{"w":1.42,"r":1.05},{"w":1.44,"r":1.1},{"w":1.45,"r":1.02},{"w":1.46,"r":1.07},{"w":1.48,"r":1.09},{"w":1.50,"r":1.12},{"w":1.52,"r":1.06},{"w":1.54,"r":1.1},{"w":1.55,"r":1.14},{"w":1.57,"r":1.08},{"w":1.58,"r":1.12},{"w":1.60,"r":1.15},{"w":1.62,"r":1.1},{"w":1.63,"r":1.17},{"w":1.65,"r":1.13},{"w":1.67,"r":1.07},{"w":1.68,"r":1.15},{"w":1.70,"r":1.19},{"w":1.72,"r":1.12},{"w":1.73,"r":1.1},{"w":1.75,"r":1.16},{"w":1.77,"r":1.21},{"w":1.78,"r":1.14},{"w":1.80,"r":1.08},{"w":1.81,"r":1.18},{"w":1.83,"r":1.22},{"w":1.85,"r":0.887},{"w":1.86,"r":0.98},{"w":1.86,"r":1.15},{"w":1.88,"r":1.24},{"w":1.90,"r":0.985},{"w":1.90,"r":1.19},{"w":1.92,"r":1.26},{"w":1.94,"r":1.17},{"w":1.96,"r":1.23},{"w":1.98,"r":1.28},{"w":2.00,"r":1.2},{"w":2.02,"r":1.25},{"w":2.04,"r":1.29},{"w":2.06,"r":1.22},{"w":2.08,"r":1.27},{"w":2.10,"r":1.31},{"w":2.12,"r":1.24},{"w":2.14,"r":1.28},{"w":2.16,"r":1.21},{"w":2.18,"r":1.3},{"w":2.20,"r":1.26},{"w":2.22,"r":1.16},{"w":2.25,"r":1.29},{"w":2.28,"r":1.22},{"w":2.30,"r":1.3},{"w":2.33,"r":1.25},{"w":2.36,"r":1.27},
  {"w":0.825,"r":0.78},{"w":0.845,"r":0.79},{"w":0.865,"r":0.79},{"w":0.885,"r":0.8},{"w":0.905,"r":0.81},{"w":0.925,"r":0.82},{"w":0.945,"r":0.83},{"w":0.965,"r":0.84},{"w":0.985,"r":0.85},{"w":1.01,"r":0.87},{"w":1.03,"r":0.88},{"w":1.05,"r":0.885},{"w":1.07,"r":0.895},{"w":1.09,"r":0.9},{"w":1.11,"r":0.905},{"w":1.13,"r":0.915},{"w":1.15,"r":0.92},{"w":1.17,"r":0.925},{"w":1.19,"r":0.935},{"w":1.21,"r":0.945},{"w":1.23,"r":0.95},{"w":1.25,"r":0.965},{"w":1.27,"r":0.96},{"w":1.29,"r":0.99},{"w":1.31,"r":0.98},{"w":1.35,"r":1.03},{"w":1.39,"r":1.045},{"w":1.43,"r":1.07},{"w":1.47,"r":1.09},{"w":1.49,"r":1.05},{"w":1.51,"r":1.1},{"w":1.53,"r":1.13},{"w":1.56,"r":1.1},{"w":1.59,"r":1.16},{"w":1.61,"r":1.13},{"w":1.64,"r":1.12},{"w":1.66,"r":1.16},{"w":1.69,"r":1.13},{"w":1.71,"r":1.17},{"w":1.74,"r":1.15},{"w":1.76,"r":1.13},{"w":1.79,"r":1.2},{"w":1.82,"r":1.16},{"w":1.84,"r":1.12},{"w":1.87,"r":1.2},{"w":1.89,"r":1.16},{"w":1.91,"r":1.22},{"w":1.93,"r":1.2},{"w":1.95,"r":1.16},{"w":1.97,"r":1.21},{"w":1.99,"r":1.25},{"w":2.01,"r":1.18},{"w":2.03,"r":1.22},{"w":2.05,"r":1.27},{"w":2.07,"r":1.2},{"w":2.09,"r":1.24},{"w":2.11,"r":1.28},{"w":2.13,"r":1.22},{"w":2.15,"r":1.26},{"w":2.17,"r":1.24},{"w":2.19,"r":1.28},{"w":2.21,"r":1.3},{"w":2.23,"r":1.22},{"w":2.24,"r":1.27},{"w":2.27,"r":1.31},{"w":2.29,"r":1.24},{"w":2.32,"r":1.28},{"w":2.35,"r":1.3}],
 "br_vis": [{"w":0.625,"r":0.712},{"w":0.757,"r":0.78},{"w":0.82,"r":0.79},{"w":0.89,"r":0.814},{"w":0.95,"r":0.83}],
 "br_mod": [
  {"s":"CM2 Chondrite","w":0.43,"r":0.65},{"s":"CM2 Chondrite","w":0.46,"r":0.70},{"s":"CM2 Chondrite","w":0.49,"r":0.75},{"s":"CM2 Chondrite","w":0.52,"r":0.795},{"s":"CM2 Chondrite","w":0.56,"r":0.84},{"s":"CM2 Chondrite","w":0.6,"r":0.875},{"s":"CM2 Chondrite","w":0.64,"r":0.892},{"s":"CM2 Chondrite","w":0.69,"r":0.903},{"s":"CM2 Chondrite","w":0.75,"r":0.912},{"s":"CM2 Chondrite","w":0.8,"r":0.922},{"s":"CM2 Chondrite","w":0.86,"r":0.93},{"s":"CM2 Chondrite","w":0.91,"r":0.939},{"s":"CM2 Chondrite","w":0.96,"r":0.95},{"s":"CM2 Chondrite","w":1.02,"r":0.96},{"s":"CM2 Chondrite","w":1.08,"r":0.97},{"s":"CM2 Chondrite","w":1.13,"r":0.979},{"s":"CM2 Chondrite","w":1.19,"r":0.986},{"s":"CM2 Chondrite","w":1.24,"r":0.992},{"s":"CM2 Chondrite","w":1.3,"r":1.004},{"s":"CM2 Chondrite","w":1.35,"r":1.017},{"s":"CM2 Chondrite","w":1.4,"r":1.033},{"s":"CM2 Chondrite","w":1.46,"r":1.05},{"s":"CM2 Chondrite","w":1.52,"r":1.066},{"s":"CM2 Chondrite","w":1.57,"r":1.08},{"s":"CM2 Chondrite","w":1.62,"r":1.088},{"s":"CM2 Chondrite","w":1.68,"r":1.093},{"s":"CM2 Chondrite","w":1.74,"r":1.1},{"s":"CM2 Chondrite","w":1.79,"r":1.107},{"s":"CM2 Chondrite","w":1.85,"r":1.118},{"s":"CM2 Chondrite","w":1.9,"r":1.13},{"s":"CM2 Chondrite","w":1.96,"r":1.143},{"s":"CM2 Chondrite","w":2.02,"r":1.156},{"s":"CM2 Chondrite","w":2.08,"r":1.168},{"s":"CM2 Chondrite","w":2.13,"r":1.18},{"s":"CM2 Chondrite","w":2.2,"r":1.2},{"s":"CM2 Chondrite","w":2.26,"r":1.235},{"s":"CM2 Chondrite","w":2.3,"r":1.255},{"s":"CM2 Chondrite","w":2.35,"r":1.262},{"s":"CM2 Chondrite","w":2.45,"r":1.262},
  {"s":"Metallic Iron","w":0.56,"r":0.65},{"s":"Metallic Iron","w":0.6,"r":0.675},{"s":"Metallic Iron","w":0.645,"r":0.70},{"s":"Metallic Iron","w":0.72,"r":0.735},{"s":"Metallic Iron","w":0.8,"r":0.77},{"s":"Metallic Iron","w":0.87,"r":0.8},{"s":"Metallic Iron","w":0.935,"r":0.826},{"s":"Metallic Iron","w":1.0,"r":0.858},{"s":"Metallic Iron","w":1.07,"r":0.89},{"s":"Metallic Iron","w":1.13,"r":0.915},{"s":"Metallic Iron","w":1.2,"r":0.94},{"s":"Metallic Iron","w":1.26,"r":0.965},{"s":"Metallic Iron","w":1.31,"r":0.99},{"s":"Metallic Iron","w":1.38,"r":1.015},{"s":"Metallic Iron","w":1.46,"r":1.042},{"s":"Metallic Iron","w":1.53,"r":1.062},{"s":"Metallic Iron","w":1.6,"r":1.08},{"s":"Metallic Iron","w":1.68,"r":1.1},{"s":"Metallic Iron","w":1.77,"r":1.118},{"s":"Metallic Iron","w":1.86,"r":1.137},{"s":"Metallic Iron","w":1.95,"r":1.156},{"s":"Metallic Iron","w":2.04,"r":1.177},{"s":"Metallic Iron","w":2.13,"r":1.2},{"s":"Metallic Iron","w":2.22,"r":1.225},{"s":"Metallic Iron","w":2.3,"r":1.25},{"s":"Metallic Iron","w":2.38,"r":1.275},{"s":"Metallic Iron","w":2.45,"r":1.3},
  {"s":"Tagish Lake","w":0.525,"r":0.65},{"s":"Tagish Lake","w":0.55,"r":0.67},{"s":"Tagish Lake","w":0.57,"r":0.69},{"s":"Tagish Lake","w":0.61,"r":0.71},{"s":"Tagish Lake","w":0.645,"r":0.73},{"s":"Tagish Lake","w":0.7,"r":0.757},{"s":"Tagish Lake","w":0.757,"r":0.783},{"s":"Tagish Lake","w":0.81,"r":0.8},{"s":"Tagish Lake","w":0.868,"r":0.814},{"s":"Tagish Lake","w":0.93,"r":0.845},{"s":"Tagish Lake","w":1.0,"r":0.878},{"s":"Tagish Lake","w":1.06,"r":0.903},{"s":"Tagish Lake","w":1.13,"r":0.928},{"s":"Tagish Lake","w":1.2,"r":0.95},{"s":"Tagish Lake","w":1.25,"r":0.967},{"s":"Tagish Lake","w":1.31,"r":0.985},{"s":"Tagish Lake","w":1.36,"r":1.01},{"s":"Tagish Lake","w":1.42,"r":1.042},{"s":"Tagish Lake","w":1.48,"r":1.075},{"s":"Tagish Lake","w":1.55,"r":1.106},{"s":"Tagish Lake","w":1.62,"r":1.125},{"s":"Tagish Lake","w":1.68,"r":1.137},{"s":"Tagish Lake","w":1.75,"r":1.15},{"s":"Tagish Lake","w":1.82,"r":1.163},{"s":"Tagish Lake","w":1.88,"r":1.176},{"s":"Tagish Lake","w":1.95,"r":1.188},{"s":"Tagish Lake","w":2.03,"r":1.204},{"s":"Tagish Lake","w":2.12,"r":1.22},{"s":"Tagish Lake","w":2.2,"r":1.232},{"s":"Tagish Lake","w":2.28,"r":1.243},{"s":"Tagish Lake","w":2.36,"r":1.253},{"s":"Tagish Lake","w":2.45,"r":1.262}]
},
"concat": [
 {
  "width": 310, "height": 184,
  "resolve": {"axis": {"x": "independent", "y": "independent"}},
  "layer": [
   {"data": {"name": "tl_obs"},
    "mark": {"type": "point", "shape": "M-1,0H1M0,-1V1", "filled": false, "stroke": "#000", "strokeWidth": 0.9, "size": 49, "opacity": 1, "clip": true},
    "encoding": {
     "x": {"field": "w", "type": "quantitative", "scale": {"domain": [0.4, 2.45], "nice": false, "zero": false},
       "axis": {"orient": "bottom", "values": [0.5,0.6,0.7,0.8,0.9,1.0,1.1,1.2,1.3,1.4,1.5,1.6,1.7,1.8,1.9,2.0,2.1,2.2,2.3,2.4], "labels": false, "title": null, "tickSize": {"condition": {"test": "abs(datum.value*2-round(datum.value*2))<0.001", "value": -7}, "value": -3.5}}},
     "y": {"field": "r", "type": "quantitative", "scale": {"domain": [0.8, 1.25], "nice": false, "zero": false},
       "axis": {"orient": "left", "values": [0.8,0.9,1.0,1.1,1.2], "format": ".1f", "tickSize": -7, "labelPadding": 14, "labelFlush": true, "labelFlushOffset": 0, "title": "Relative Reflectance", "titleX": -53, "titleY": 185, "titleBaseline": "middle", "titleAngle": -90}}
    }},
   {"data": {"name": "tl_vis"},
    "mark": {"type": "point", "shape": "diamond", "filled": false, "stroke": "#000", "strokeWidth": 0.9, "size": 38, "opacity": 1, "clip": true},
    "encoding": {
     "x": {"field": "w", "type": "quantitative", "scale": {"domain": [0.4, 2.45], "nice": false, "zero": false},
       "axis": {"orient": "top", "values": [0.5,0.6,0.7,0.8,0.9,1.0,1.1,1.2,1.3,1.4,1.5,1.6,1.7,1.8,1.9,2.0,2.1,2.2,2.3,2.4], "labels": false, "title": null, "tickSize": {"condition": {"test": "abs(datum.value*2-round(datum.value*2))<0.001", "value": -7}, "value": -3.5}}},
     "y": {"field": "r", "type": "quantitative", "scale": {"domain": [0.8, 1.25], "nice": false, "zero": false},
       "axis": {"orient": "right", "values": [0.8,0.9,1.0,1.1,1.2], "labels": false, "tickSize": -7, "title": null}}
    }},
   {"data": {"name": "tl_mod"},
    "mark": {"type": "line", "strokeWidth": 2.5, "strokeCap": "butt", "clip": true},
    "encoding": {
     "x": {"field": "w", "type": "quantitative", "scale": {"domain": [0.4, 2.45], "nice": false, "zero": false}, "axis": null},
     "y": {"field": "r", "type": "quantitative", "scale": {"domain": [0.8, 1.25], "nice": false, "zero": false}, "axis": null},
     "color": {"field": "s", "type": "nominal", "scale": {"domain": ["Magnetite", "Hedenbergite", "70% Ivuna + 30% Murchison"], "range": ["#33ee33", "#1111ff", "#ff2222"]},
       "legend": {"orient": "none", "legendX": 130, "legendY": 115, "title": null, "symbolType": "M-4,0H4", "symbolSize": 100, "symbolStrokeWidth": 2.5, "labelOffset": 19, "rowPadding": 4}},
     "strokeDash": {"field": "s", "type": "nominal", "scale": {"domain": ["Magnetite", "Hedenbergite", "70% Ivuna + 30% Murchison"], "range": [[10,4,2,4,2,4,2,4],[10,4,2,4,2,4,2,4],[7,5]]}}
    }},
   {"data": {"values": [{}]},
    "mark": {"type": "text", "align": "left", "baseline": "middle", "fontSize": 16},
    "encoding": {"x": {"datum": 0.5, "type": "quantitative", "scale": {"domain": [0.4, 2.45], "nice": false, "zero": false}, "axis": null}, "y": {"datum": 1.184, "type": "quantitative", "scale": {"domain": [0.8, 1.25], "nice": false, "zero": false}, "axis": null}, "text": {"value": "31 Euphrosyne"}}},
   {"data": {"values": [{}]},
    "layer": [
     {"mark": {"type": "text", "align": "left", "baseline": "middle", "fontSize": 11}, "encoding": {"text": {"value": "(λ"}}},
     {"mark": {"type": "text", "align": "left", "baseline": "middle", "fontSize": 7, "dx": 9.5, "dy": 3}, "encoding": {"text": {"value": "abs"}}},
     {"mark": {"type": "text", "align": "left", "baseline": "middle", "fontSize": 11, "dx": 24}, "encoding": {"text": {"value": "= 0.8–1.5 μm)"}}}
    ],
    "encoding": {"x": {"datum": 1.473, "type": "quantitative", "scale": {"domain": [0.4, 2.45], "nice": false, "zero": false}, "axis": null}, "y": {"datum": 0.84, "type": "quantitative", "scale": {"domain": [0.8, 1.25], "nice": false, "zero": false}, "axis": null}}}
  ]
 },
 {
  "width": 310, "height": 184,
  "resolve": {"axis": {"x": "independent", "y": "independent"}},
  "layer": [
   {"data": {"name": "tr_obs"},
    "mark": {"type": "point", "shape": "M-1,0H1M0,-1V1", "filled": false, "stroke": "#000", "strokeWidth": 0.9, "size": 49, "opacity": 1, "clip": true},
    "encoding": {
     "x": {"field": "w", "type": "quantitative", "scale": {"domain": [0.4, 2.45], "nice": false, "zero": false},
       "axis": {"orient": "bottom", "values": [0.5,0.6,0.7,0.8,0.9,1.0,1.1,1.2,1.3,1.4,1.5,1.6,1.7,1.8,1.9,2.0,2.1,2.2,2.3,2.4], "labels": false, "title": null, "tickSize": {"condition": {"test": "abs(datum.value*2-round(datum.value*2))<0.001", "value": -7}, "value": -3.5}}},
     "y": {"field": "r", "type": "quantitative", "scale": {"domain": [0.8, 1.3], "nice": false, "zero": false},
       "axis": {"orient": "left", "values": [0.9,1.0,1.1,1.2], "labels": false, "tickSize": -7, "title": null}}
    }},
   {"data": {"name": "tr_vis"},
    "mark": {"type": "point", "shape": "diamond", "filled": false, "stroke": "#000", "strokeWidth": 0.9, "size": 38, "opacity": 1, "clip": true},
    "encoding": {
     "x": {"field": "w", "type": "quantitative", "scale": {"domain": [0.4, 2.45], "nice": false, "zero": false},
       "axis": {"orient": "top", "values": [0.5,0.6,0.7,0.8,0.9,1.0,1.1,1.2,1.3,1.4,1.5,1.6,1.7,1.8,1.9,2.0,2.1,2.2,2.3,2.4], "labels": false, "title": null, "tickSize": {"condition": {"test": "abs(datum.value*2-round(datum.value*2))<0.001", "value": -7}, "value": -3.5}}},
     "y": {"field": "r", "type": "quantitative", "scale": {"domain": [0.8, 1.3], "nice": false, "zero": false},
       "axis": {"orient": "right", "values": [0.9,1.0,1.1,1.2], "labels": false, "tickSize": -7, "title": null}}
    }},
   {"data": {"name": "tr_mod"},
    "mark": {"type": "line", "strokeWidth": 2.5, "strokeCap": "butt", "clip": true},
    "encoding": {
     "x": {"field": "w", "type": "quantitative", "scale": {"domain": [0.4, 2.45], "nice": false, "zero": false}, "axis": null},
     "y": {"field": "r", "type": "quantitative", "scale": {"domain": [0.8, 1.3], "nice": false, "zero": false}, "axis": null},
     "color": {"field": "s", "type": "nominal", "scale": {"domain": ["Magnetite", "Heated Olivine", "Hedenbergite"], "range": ["#33ee33", "#1111ff", "#ff2222"]},
       "legend": {"orient": "none", "legendX": 189, "legendY": 115, "title": null, "symbolType": "M-4,0H4", "symbolSize": 100, "symbolStrokeWidth": 2.5, "labelOffset": 19, "rowPadding": 2.5}},
     "strokeDash": {"field": "s", "type": "nominal", "scale": {"domain": ["Magnetite", "Heated Olivine", "Hedenbergite"], "range": [[10,4,2,4,2,4,2,4],[10,4,2,4,2,4,2,4],[7,5]]}}
    }},
   {"data": {"values": [{}]},
    "mark": {"type": "text", "align": "left", "baseline": "middle", "fontSize": 16},
    "encoding": {"x": {"datum": 0.51, "type": "quantitative", "scale": {"domain": [0.4, 2.45], "nice": false, "zero": false}, "axis": null}, "y": {"datum": 1.235, "type": "quantitative", "scale": {"domain": [0.8, 1.3], "nice": false, "zero": false}, "axis": null}, "text": {"value": "895 Helio"}}},
   {"data": {"values": [{}]},
    "layer": [
     {"mark": {"type": "text", "align": "left", "baseline": "middle", "fontSize": 11}, "encoding": {"text": {"value": "(λ"}}},
     {"mark": {"type": "text", "align": "left", "baseline": "middle", "fontSize": 7, "dx": 9.5, "dy": 3}, "encoding": {"text": {"value": "abs"}}},
     {"mark": {"type": "text", "align": "left", "baseline": "middle", "fontSize": 11, "dx": 24}, "encoding": {"text": {"value": "= 0.5–1.6 μm)"}}}
    ],
    "encoding": {"x": {"datum": 1.79, "type": "quantitative", "scale": {"domain": [0.4, 2.45], "nice": false, "zero": false}, "axis": null}, "y": {"datum": 0.845, "type": "quantitative", "scale": {"domain": [0.8, 1.3], "nice": false, "zero": false}, "axis": null}}}
  ]
 },
 {
  "width": 310, "height": 184,
  "resolve": {"axis": {"x": "independent", "y": "independent"}},
  "layer": [
   {"data": {"name": "bl_obs"},
    "mark": {"type": "point", "shape": "M-1,0H1M0,-1V1", "filled": false, "stroke": "#000", "strokeWidth": 0.9, "size": 49, "opacity": 1, "clip": true},
    "encoding": {
     "x": {"field": "w", "type": "quantitative", "scale": {"domain": [0.4, 2.45], "nice": false, "zero": false},
       "axis": {"orient": "bottom", "values": [0.5,0.6,0.7,0.8,0.9,1.0,1.1,1.2,1.3,1.4,1.5,1.6,1.7,1.8,1.9,2.0,2.1,2.2,2.3,2.4], "labels": true, "labelExpr": "abs(datum.value*2-round(datum.value*2))<0.001 ? format(datum.value, '.1f') : ''", "labelPadding": 12.5, "tickSize": {"condition": {"test": "abs(datum.value*2-round(datum.value*2))<0.001", "value": -7}, "value": -3.5},
         "title": "Wavelength (μm)", "titleX": 310, "titleY": 35, "titleBaseline": "middle"}},
     "y": {"field": "r", "type": "quantitative", "scale": {"domain": [0.65, 1.35], "nice": false, "zero": false},
       "axis": {"orient": "left", "values": [0.7,0.8,0.9,1.0,1.1,1.2,1.3], "format": ".1f", "tickSize": -7, "labelPadding": 14, "title": null}}
    }},
   {"data": {"name": "bl_vis"},
    "mark": {"type": "point", "shape": "diamond", "filled": false, "stroke": "#000", "strokeWidth": 0.9, "size": 38, "opacity": 1, "clip": true},
    "encoding": {
     "x": {"field": "w", "type": "quantitative", "scale": {"domain": [0.4, 2.45], "nice": false, "zero": false},
       "axis": {"orient": "top", "values": [0.5,0.6,0.7,0.8,0.9,1.0,1.1,1.2,1.3,1.4,1.5,1.6,1.7,1.8,1.9,2.0,2.1,2.2,2.3,2.4], "labels": false, "title": null, "tickSize": {"condition": {"test": "abs(datum.value*2-round(datum.value*2))<0.001", "value": -7}, "value": -3.5}}},
     "y": {"field": "r", "type": "quantitative", "scale": {"domain": [0.65, 1.35], "nice": false, "zero": false},
       "axis": {"orient": "right", "values": [0.7,0.8,0.9,1.0,1.1,1.2,1.3], "labels": false, "tickSize": -7, "title": null}}
    }},
   {"data": {"name": "bl_mod"},
    "mark": {"type": "line", "strokeWidth": 2.5, "strokeCap": "butt", "clip": true},
    "encoding": {
     "x": {"field": "w", "type": "quantitative", "scale": {"domain": [0.4, 2.45], "nice": false, "zero": false}, "axis": null},
     "y": {"field": "r", "type": "quantitative", "scale": {"domain": [0.65, 1.35], "nice": false, "zero": false}, "axis": null},
     "color": {"field": "s", "type": "nominal", "scale": {"domain": ["Heated Olivine", "Hedenbergite", "10% Ivuna + 90% Murchison"], "range": ["#33ee33", "#1111ff", "#ff2222"]},
       "legend": {"orient": "none", "legendX": 130, "legendY": 117, "title": null, "symbolType": "M-4,0H4", "symbolSize": 100, "symbolStrokeWidth": 2.5, "labelOffset": 19, "rowPadding": 2}},
     "strokeDash": {"field": "s", "type": "nominal", "scale": {"domain": ["Heated Olivine", "Hedenbergite", "10% Ivuna + 90% Murchison"], "range": [[10,4,2,4,2,4,2,4],[10,4,2,4,2,4,2,4],[7,5]]}}
    }},
   {"data": {"values": [{}]},
    "mark": {"type": "text", "align": "left", "baseline": "middle", "fontSize": 16},
    "encoding": {"x": {"datum": 0.5, "type": "quantitative", "scale": {"domain": [0.4, 2.45], "nice": false, "zero": false}, "axis": null}, "y": {"datum": 1.259, "type": "quantitative", "scale": {"domain": [0.65, 1.35], "nice": false, "zero": false}, "axis": null}, "text": {"value": "16712"}}},
   {"data": {"values": [{}]},
    "layer": [
     {"mark": {"type": "text", "align": "left", "baseline": "middle", "fontSize": 11}, "encoding": {"text": {"value": "(λ"}}},
     {"mark": {"type": "text", "align": "left", "baseline": "middle", "fontSize": 7, "dx": 9.5, "dy": 3}, "encoding": {"text": {"value": "abs"}}},
     {"mark": {"type": "text", "align": "left", "baseline": "middle", "fontSize": 11, "dx": 24}, "encoding": {"text": {"value": "= 0.7–1.5 μm)"}}}
    ],
    "encoding": {"x": {"datum": 1.493, "type": "quantitative", "scale": {"domain": [0.4, 2.45], "nice": false, "zero": false}, "axis": null}, "y": {"datum": 0.715, "type": "quantitative", "scale": {"domain": [0.65, 1.35], "nice": false, "zero": false}, "axis": null}}}
  ]
 },
 {
  "width": 310, "height": 184,
  "resolve": {"axis": {"x": "independent", "y": "independent"}},
  "layer": [
   {"data": {"name": "br_obs"},
    "mark": {"type": "point", "shape": "M-1,0H1M0,-1V1", "filled": false, "stroke": "#000", "strokeWidth": 0.9, "size": 49, "opacity": 1, "clip": true},
    "encoding": {
     "x": {"field": "w", "type": "quantitative", "scale": {"domain": [0.4, 2.45], "nice": false, "zero": false},
       "axis": {"orient": "bottom", "values": [0.5,0.6,0.7,0.8,0.9,1.0,1.1,1.2,1.3,1.4,1.5,1.6,1.7,1.8,1.9,2.0,2.1,2.2,2.3,2.4], "labels": true, "labelExpr": "abs(datum.value*2-round(datum.value*2))<0.001 ? format(datum.value, '.1f') : ''", "labelPadding": 12.5, "tickSize": {"condition": {"test": "abs(datum.value*2-round(datum.value*2))<0.001", "value": -7}, "value": -3.5}, "title": null}},
     "y": {"field": "r", "type": "quantitative", "scale": {"domain": [0.65, 1.35], "nice": false, "zero": false},
       "axis": {"orient": "left", "values": [0.7,0.8,0.9,1.0,1.1,1.2,1.3], "labels": false, "tickSize": -7, "title": null}}
    }},
   {"data": {"name": "br_vis"},
    "mark": {"type": "point", "shape": "diamond", "filled": false, "stroke": "#000", "strokeWidth": 0.9, "size": 38, "opacity": 1, "clip": true},
    "encoding": {
     "x": {"field": "w", "type": "quantitative", "scale": {"domain": [0.4, 2.45], "nice": false, "zero": false},
       "axis": {"orient": "top", "values": [0.5,0.6,0.7,0.8,0.9,1.0,1.1,1.2,1.3,1.4,1.5,1.6,1.7,1.8,1.9,2.0,2.1,2.2,2.3,2.4], "labels": false, "title": null, "tickSize": {"condition": {"test": "abs(datum.value*2-round(datum.value*2))<0.001", "value": -7}, "value": -3.5}}},
     "y": {"field": "r", "type": "quantitative", "scale": {"domain": [0.65, 1.35], "nice": false, "zero": false},
       "axis": {"orient": "right", "values": [0.7,0.8,0.9,1.0,1.1,1.2,1.3], "labels": false, "tickSize": -7, "title": null}}
    }},
   {"data": {"name": "br_mod"},
    "mark": {"type": "line", "strokeWidth": 2.5, "strokeCap": "butt", "clip": true},
    "encoding": {
     "x": {"field": "w", "type": "quantitative", "scale": {"domain": [0.4, 2.45], "nice": false, "zero": false}, "axis": null},
     "y": {"field": "r", "type": "quantitative", "scale": {"domain": [0.65, 1.35], "nice": false, "zero": false}, "axis": null},
     "color": {"field": "s", "type": "nominal", "scale": {"domain": ["CM2 Chondrite", "Metallic Iron", "Tagish Lake"], "range": ["#33ee33", "#1111ff", "#ff2222"]},
       "legend": {"orient": "none", "legendX": 189, "legendY": 132, "title": null, "symbolType": "M-4,0H4", "symbolSize": 100, "symbolStrokeWidth": 2.5, "labelOffset": 19, "rowPadding": 2}},
     "strokeDash": {"field": "s", "type": "nominal", "scale": {"domain": ["CM2 Chondrite", "Metallic Iron", "Tagish Lake"], "range": [[10,4,2,4,2,4,2,4],[10,4,2,4,2,4,2,4],[7,5]]}}
    }},
   {"data": {"values": [{}]},
    "mark": {"type": "text", "align": "left", "baseline": "middle", "fontSize": 16},
    "encoding": {"x": {"datum": 0.513, "type": "quantitative", "scale": {"domain": [0.4, 2.45], "nice": false, "zero": false}, "axis": null}, "y": {"datum": 1.262, "type": "quantitative", "scale": {"domain": [0.65, 1.35], "nice": false, "zero": false}, "axis": null}, "text": {"value": "66360"}}}
  ]
 }
]
}
